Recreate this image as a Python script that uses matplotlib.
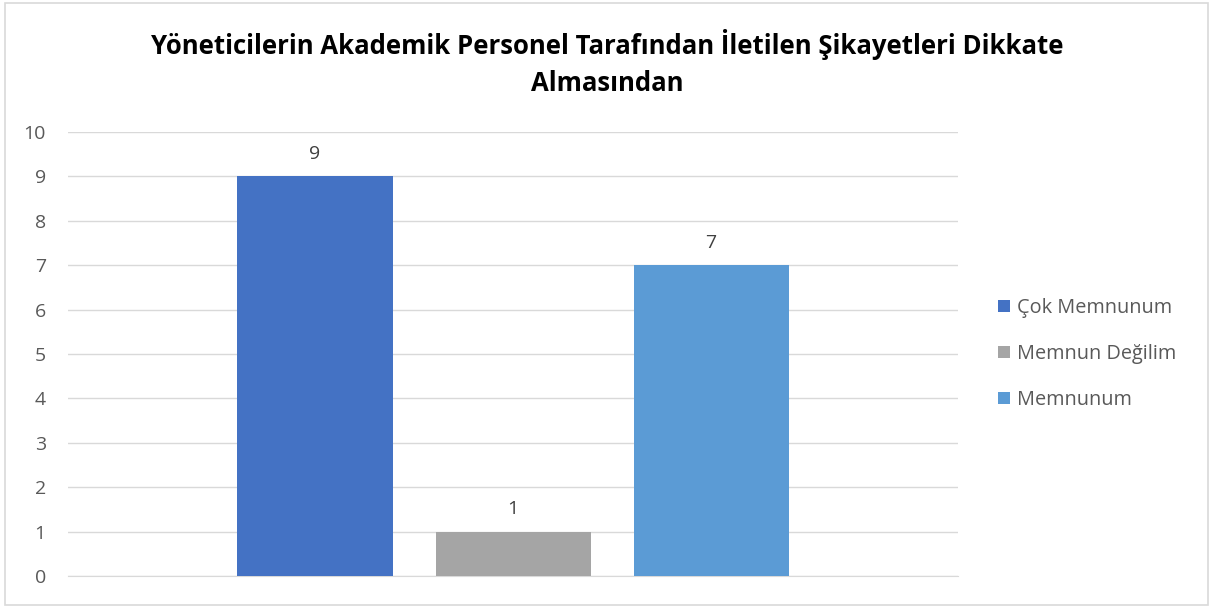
import matplotlib.pyplot as plt
from matplotlib.patches import Rectangle

plt.rcParams['font.family'] = ['Open Sans', 'DejaVu Sans']

# veri
baslik = "Yöneticilerin Akademik Personel Tarafından İletilen Şikayetleri Dikkate\nAlmasından"
seriler = ["Çok Memnunum", "Memnun Değilim", "Memnunum"]
degerler = [9, 1, 7]
renkler = ["#4472C4", "#A5A5A5", "#5B9BD5"]
y_ticks = list(range(0, 11))

W, H = 1215, 608
fig = plt.figure(figsize=(W / 100, H / 100), dpi=100, facecolor='white')

# dis cerceve
fig.patches.append(Rectangle((5 / W, 3 / H), 1203 / W, 602 / H, transform=fig.transFigure,
                             fill=False, edgecolor='#D9D9D9', linewidth=1.2))

ax = fig.add_axes([68 / W, 1 - 576 / H, 890 / W, 444 / H])

genislik = 155 / 890
aralik = 198 / 890
for i, (ad, v, c) in enumerate(zip(seriler, degerler, renkler)):
    x = (i - 1) * aralik
    ax.bar(x, v, width=genislik, color=c, label=ad, zorder=3)
    ax.text(x, v + 0.3, str(v), ha='center', va='bottom', fontsize=14, color='#404040')

ax.set_xlim(-0.5, 0.5)
ax.set_ylim(0, 10)
ax.set_yticks(y_ticks)
ax.set_xticks([])
ax.grid(axis='y', color='#D9D9D9', linewidth=1, zorder=0)
for s in ['top', 'right', 'left']:
    ax.spines[s].set_visible(False)
ax.spines['bottom'].set_color('#D9D9D9')
ax.tick_params(axis='y', length=0, pad=16, labelsize=14, labelcolor='#595959')

fig.text(0.5, 1 - 63 / H, baslik, ha='center', va='center', fontsize=18.5,
         fontweight='bold', color='black', linespacing=1.5)

ax.legend(loc='center left', bbox_to_anchor=(912 / 890, 0.5),
          frameon=False, fontsize=14.3, handlelength=0.6, handleheight=0.6,
          handletextpad=0.35, labelspacing=1.3, labelcolor='#595959')

fig.savefig('out.png', dpi=100)
